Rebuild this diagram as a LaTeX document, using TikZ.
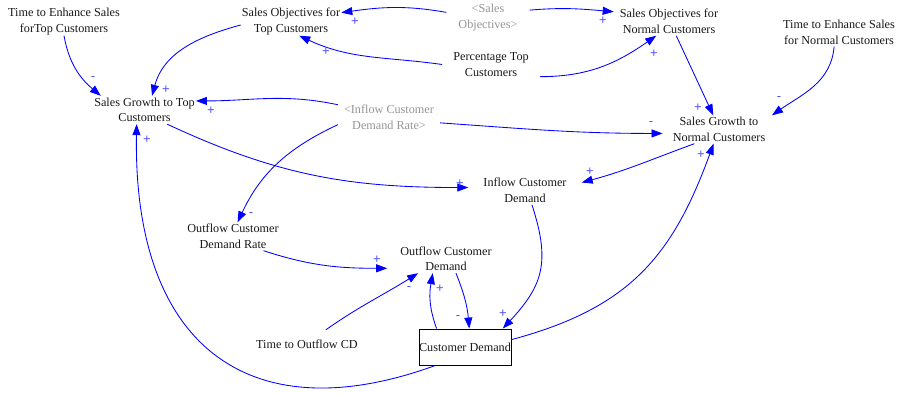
\documentclass[tikz,border=0pt]{standalone}
\usepackage{fontspec}
\setmainfont{Liberation Serif}
\newfontfamily\signfont{Liberation Sans}
\usetikzlibrary{arrows.meta}
\definecolor{linkblue}{RGB}{0,0,255}
\definecolor{signblue}{RGB}{80,80,255}
\definecolor{ghostgray}{RGB}{150,150,150}
\definecolor{ink}{RGB}{25,25,25}
\begin{document}
\begin{tikzpicture}[x=1pt,y=1pt,
  var/.style={align=center, font=\fontsize{12.2}{15.5}\selectfont, text=ink,
    inner xsep=1pt, inner ysep=0pt, minimum height=28pt},
  ghost/.style={var, text=ghostgray},
  stock/.style={draw=black, line width=0.9pt, font=\fontsize{12.2}{15.5}\selectfont,
    text=ink, minimum width=92pt, minimum height=36pt, inner sep=0pt},
  link/.style={draw=linkblue, line width=0.85pt, -{Triangle[length=11pt,width=8pt]}},
  sign/.style={font=\signfont\fontsize{13}{13}\selectfont, text=signblue, inner sep=0pt}
]
\useasboundingbox[fill=white] (0,0) rectangle (898,393);

% variables
\node[var] (tets) at (64,371.5) {Time to Enhance Sales\\forTop Customers};
\node[var] (sot) at (291,371.5) {Sales Objectives for\\Top Customers};
\node[ghost, inner xsep=12pt] (so) at (488,375.5) {<Sales\\Objectives>};
\node[var, inner xsep=6pt] (son) at (669,371.5) {Sales Objectives for\\Normal Customers};
\node[var] (tens) at (839,360.5) {Time to Enhance Sales\\for Normal Customers};
\node[var, inner xsep=11pt] (ptc) at (491,328.5) {Percentage Top\\Customers};
\node[var] (sgt) at (144.5,283) {Sales Growth to Top\\Customers};
\node[ghost, inner xsep=6pt] (icdr) at (389,275.5) {<Inflow Customer\\Demand Rate>};
\node[var, inner xsep=10pt] (sgn) at (719,263.5) {Sales Growth to\\Normal Customers};
\node[var, inner xsep=15pt] (icd) at (525,202.5) {Inflow Customer\\Demand};
\node[var] (ocdr) at (233,156.5) {Outflow Customer\\Demand Rate};
\node[var, inner xsep=13pt] (ocd) at (446,134) {Outflow Customer\\Demand};
\node[var] (toc) at (307,49) {Time to Outflow CD};
\node[stock] (cd) at (465,46) {Customer Demand};

% causal links
\draw[link] (tets.south) to[out=-80,in=140] (sgt.162);
\draw[link] (sot.184) to[out=195,in=75] (sgt.62);
\draw[link] (so.173) to[out=170,in=8] (sot.10);
\draw[link] (so.10) to[out=5,in=175] (son.170);
\draw[link] (ptc.west) to[out=172,in=-25] (sot.-60);
\draw[link] (ptc.-14) to[out=0,in=215] (son.-132);
\draw[link] (icdr.166) to[out=168,in=0] (sgt.10);
\draw[link] (icdr.-6) to[out=-4,in=180] (sgn.184);
\draw[link] (icdr.188) to[out=205,in=65] (ocdr.72);
\draw[link] (son.-63) -- (sgn.112);
\draw[link] (tens.-109) to[out=-95,in=35] (sgn.15);
\draw[link] (sgn.210) to[out=200,in=15] (icd.8);
\draw[link] (sgt.-32) to[out=-25,in=180] (icd.177);
\draw[link] (icd.-64) to[out=-72,in=47,looseness=1.2] (cd.26);
\draw[link] (ocdr.-25) to[out=-18,in=180] (ocd.189);
\draw[link] (toc.37) to[out=35,in=212] (ocd.207);
\draw[link] (cd.147) to[out=110,in=-100] (ocd.227);
\draw[link] (ocd.-55) to[out=-68,in=95] (cd.77);
\draw[link] (cd.9) to[out=15,in=-110,looseness=1.1] (sgn.-111);
\draw[link] (cd.212) .. controls (250,-40) and (133,46) .. (sgt.-119);

% link polarities
\node[sign] (s1) at (93,314) {-};
\node[sign] (s2) at (166,303) {+};
\node[sign] (s3) at (355,371) {+};
\node[sign] (s4) at (603,372) {+};
\node[sign] (s5) at (326,341) {+};
\node[sign] (s6) at (654,339) {+};
\node[sign] (s7) at (211,282) {+};
\node[sign] (s8) at (651,269) {-};
\node[sign] (s9) at (251,178) {-};
\node[sign] (s10) at (698,285) {+};
\node[sign] (s11) at (779,294) {-};
\node[sign] (s12) at (590,221) {+};
\node[sign] (s13) at (460,209) {+};
\node[sign] (s14) at (503,79) {+};
\node[sign] (s15) at (377,133) {+};
\node[sign] (s16) at (409,104) {-};
\node[sign] (s17) at (440,104) {+};
\node[sign] (s18) at (458,75) {-};
\node[sign] (s19) at (701,238) {+};
\node[sign] (s20) at (147,253) {+};
\end{tikzpicture}
\end{document}
